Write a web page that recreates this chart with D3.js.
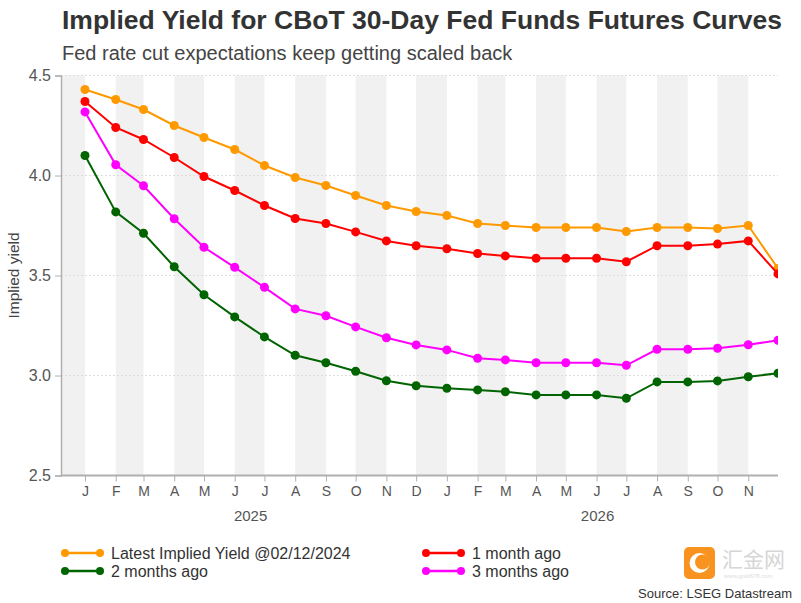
<!DOCTYPE html>
<html>
<head>
<meta charset="utf-8">
<script src="https://cdn.jsdelivr.net/npm/d3@7"></script>
<style>
  html, body { margin: 0; padding: 0; background: #fff; }
  svg { display: block; font-family: "Liberation Sans", Arial, Helvetica, sans-serif; }
</style>
</head>
<body>
<svg id="chart" width="801" height="603"></svg>
<script>
// ---------- DATA ----------
const months = ["2025-01","2025-02","2025-03","2025-04","2025-05","2025-06","2025-07","2025-08","2025-09","2025-10","2025-11","2025-12",
                "2026-01","2026-02","2026-03","2026-04","2026-05","2026-06","2026-07","2026-08","2026-09","2026-10","2026-11","2026-12"];
const latest   = [4.43,4.38,4.33,4.25,4.19,4.13,4.05,3.99,3.95,3.90,3.85,3.82,3.80,3.76,3.75,3.74,3.74,3.74,3.72,3.74,3.74,3.735,3.75,3.535];
const oneMonth = [4.37,4.24,4.18,4.09,3.995,3.925,3.85,3.785,3.76,3.718,3.673,3.649,3.634,3.61,3.598,3.586,3.586,3.586,3.569,3.649,3.649,3.657,3.673,3.508];
const twoMonth = [4.10,3.818,3.711,3.544,3.404,3.293,3.193,3.101,3.064,3.021,2.974,2.949,2.936,2.928,2.919,2.903,2.903,2.903,2.886,2.968,2.968,2.973,2.994,3.011];
const threeMonth=[4.318,4.054,3.949,3.784,3.641,3.541,3.441,3.333,3.299,3.243,3.189,3.153,3.128,3.086,3.078,3.064,3.064,3.064,3.051,3.131,3.131,3.136,3.154,3.176];
const seriesNames = ["Latest Implied Yield @02/12/2024","1 month ago","2 months ago","3 months ago"];
const seriesColors = ["#FF9900","#FF0000","#006400","#FF00FF"];
const tickLabels = ["J","F","M","A","M","J","J","A","S","O","N","D","J","F","M","A","M","J","J","A","S","O","N"];
const yearLabels = ["2025","2026"];
const yTicks = [2.5,3.0,3.5,4.0,4.5];

// ---------- LAYOUT ----------
const W = 801, H = 603;
const margin = {top: 75.5, right: 23, bottom: 127.5, left: 61};
const svg = d3.select("#chart");
const parse = d3.timeParse("%Y-%m");
const dates = months.map(parse);

const x = d3.scaleTime()
  .domain([dates[0], dates[dates.length-1]])
  .range([85, W - margin.right]);
const y = d3.scaleLinear().domain([2.5, 4.5]).range([H - margin.bottom, margin.top]);

const plotL = margin.left, plotR = W - margin.right, plotT = margin.top, plotB = H - margin.bottom;

svg.append("defs").append("clipPath").attr("id","plotclip")
  .append("rect").attr("x", plotL).attr("y", plotT - 10).attr("width", plotR - plotL).attr("height", plotB - plotT + 10);

// Alternating month bands
const bandStarts = [d3.timeMonth.offset(dates[0], -1)].concat(dates);
const bandG = svg.append("g").attr("clip-path","url(#plotclip)");
bandStarts.forEach((d, i) => {
  if (i % 2 === 0) {
    const x0 = Math.max(plotL, x(d));
    const x1 = Math.min(plotR, x(d3.timeMonth.offset(d, 1)));
    if (x1 > x0) bandG.append("rect").attr("x", x0).attr("y", plotT).attr("width", x1 - x0).attr("height", plotB - plotT).attr("fill", "#f1f1f1");
  }
});

// Grid lines
svg.append("g").selectAll("line").data(yTicks.filter(v => v > 2.5)).join("line")
  .attr("x1", plotL).attr("x2", plotR)
  .attr("y1", d => y(d)).attr("y2", d => y(d))
  .attr("stroke", "#dddddd").attr("stroke-width", 1).attr("stroke-dasharray", "2,2");

// Y axis
const yAxis = svg.append("g").attr("transform", `translate(${plotL},0)`)
  .call(d3.axisLeft(y).tickValues(yTicks).tickFormat(d3.format(".1f")).tickSize(6).tickPadding(4));
yAxis.select(".domain").attr("stroke", "#b0b0b0").attr("stroke-width", 1.5);
yAxis.selectAll(".tick line").attr("stroke", "#b0b0b0");
yAxis.selectAll("text").attr("font-size", 16).attr("fill", "#555").attr("font-family", "Liberation Sans, Arial, sans-serif");

// X axis
const xAxis = svg.append("g").attr("transform", `translate(0,${plotB})`)
  .call(d3.axisBottom(x).tickValues(dates.slice(0, tickLabels.length)).tickFormat((d, i) => tickLabels[i]).tickSize(6).tickPadding(5));
xAxis.select(".domain").attr("d", `M${plotL},0H${plotR}`).attr("stroke", "#b0b0b0").attr("stroke-width", 2);
xAxis.selectAll(".tick line").attr("stroke", "#b0b0b0");
xAxis.selectAll("text").attr("font-size", 14).attr("fill", "#555").attr("font-family", "Liberation Sans, Arial, sans-serif");

// Year labels centered between first and last labeled month in each year
yearLabels.forEach(yr => {
  const ds = dates.slice(0, tickLabels.length).filter(d => d.getFullYear() === +yr);
  const cx = (x(ds[0]) + x(ds[ds.length-1])) / 2;
  svg.append("text").attr("x", cx).attr("y", 521).attr("text-anchor", "middle")
    .attr("font-size", 15).attr("fill", "#555").text(yr);
});

// Y axis title
svg.append("text").attr("transform", `translate(19,${(plotT+plotB)/2}) rotate(-90)`)
  .attr("text-anchor", "middle").attr("font-size", 15.5).attr("fill", "#444").text("Implied yield");

// Series
const allSeries = [latest, oneMonth, twoMonth, threeMonth];
const line = d3.line().x((d, i) => x(dates[i])).y(d => y(d));
const seriesG = svg.append("g").attr("clip-path", "url(#plotclip)");
[0, 1, 2, 3].forEach(k => {
  const vals = allSeries[k];
  const g = seriesG.append("g");
  g.append("path").datum(vals).attr("d", line).attr("fill", "none")
    .attr("stroke", seriesColors[k]).attr("stroke-width", 2);
  g.selectAll("circle").data(vals).join("circle")
    .attr("cx", (d, i) => x(dates[i])).attr("cy", d => y(d)).attr("r", 4.5)
    .attr("fill", seriesColors[k]);
});

// Title & subtitle
svg.append("text").attr("x", 62).attr("y", 29).attr("font-size", 26.5).attr("font-weight", "bold")
  .attr("fill", "#333").text("Implied Yield for CBoT 30-Day Fed Funds Futures Curves");
svg.append("text").attr("x", 62).attr("y", 60).attr("font-size", 20)
  .attr("fill", "#444").text("Fed rate cut expectations keep getting scaled back");

// Legend
const legendPos = [[65, 553], [426, 553], [65, 571], [426, 571]];
seriesNames.forEach((name, k) => {
  const [lx, ly] = legendPos[k];
  const g = svg.append("g");
  g.append("line").attr("x1", lx).attr("x2", lx + 35).attr("y1", ly).attr("y2", ly)
    .attr("stroke", seriesColors[k]).attr("stroke-width", 2.5);
  g.append("circle").attr("cx", lx).attr("cy", ly).attr("r", 4).attr("fill", seriesColors[k]);
  g.append("circle").attr("cx", lx + 35).attr("cy", ly).attr("r", 4).attr("fill", seriesColors[k]);
  g.append("text").attr("x", lx + 46).attr("y", ly + 6).attr("font-size", 16).attr("fill", "#333").text(name);
});

// Watermark logo
const wm = svg.append("g").attr("transform", "translate(684,547)");
wm.append("rect").attr("width", 31).attr("height", 32).attr("rx", 5).attr("fill", "#F7931E");
wm.append("circle").attr("cx", 15.5).attr("cy", 16).attr("r", 10).attr("fill", "#fff");
wm.append("circle").attr("cx", 18.5).attr("cy", 15).attr("r", 7.5).attr("fill", "#F7931E");
wm.append("text").attr("x", 38).attr("y", 20)
  .attr("font-size", 21).attr("fill", "#d6d6d6").attr("font-family", "Noto Sans CJK SC, sans-serif").text("汇金网");
wm.append("text").attr("x", 40).attr("y", 31).attr("font-size", 6).attr("fill", "#dcdcdc").text("www.gold678.com");

// Source
svg.append("text").attr("x", 792).attr("y", 598).attr("text-anchor", "end")
  .attr("font-size", 13).attr("fill", "#333").text("Source: LSEG Datastream");
</script>
</body>
</html>
